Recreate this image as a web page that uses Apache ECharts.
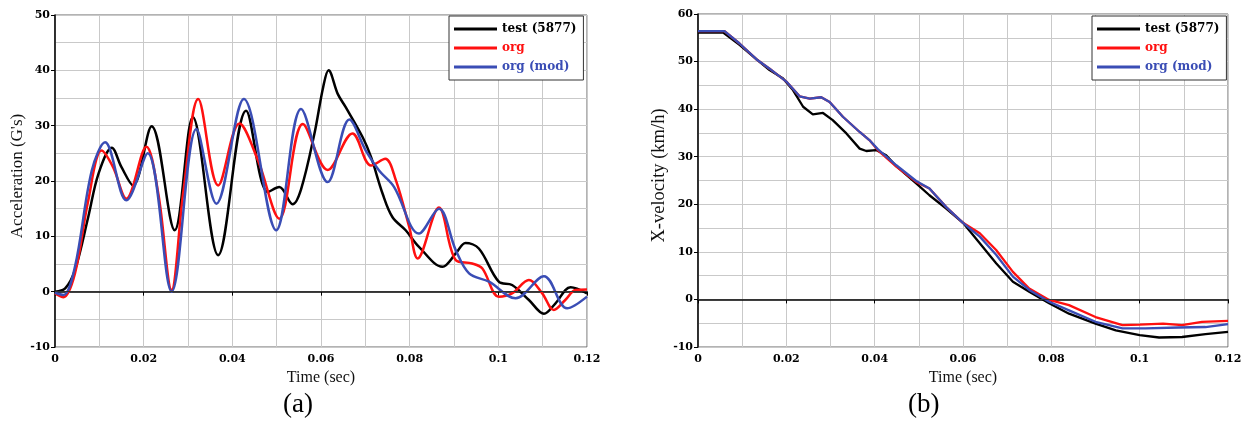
<!DOCTYPE html>
<html><head><meta charset="utf-8">
<script src="https://cdn.jsdelivr.net/npm/echarts@6/dist/echarts.min.js"></script>
<style>html,body{margin:0;padding:0;background:#fff}#c{width:1251px;height:422px}</style>
</head><body><div id="c"></div>
<script>
// ---- data (a): acceleration [time s, G's]
const accTest = [[0,0],[0.0023,0.6],[0.0045,3.9],[0.0075,13.5],[0.0098,21.3],[0.0128,26.0],[0.015,22.5],[0.0176,19.2],[0.0218,29.9],[0.027,11.1],[0.0311,31.5],[0.0368,6.6],[0.0431,32.7],[0.048,18.0],[0.0506,18.9],[0.0536,15.8],[0.0555,18.5],[0.0585,28.5],[0.0605,37],[0.0617,40.0],[0.0638,35.7],[0.0656,33.3],[0.0694,27.9],[0.0713,24.3],[0.0739,17.7],[0.0761,13.5],[0.0791,11.1],[0.0821,8.1],[0.0874,4.5],[0.0904,6.9],[0.0926,8.8],[0.0956,7.8],[0.1001,1.8],[0.1031,1.2],[0.1069,-1.5],[0.1103,-4.0],[0.1129,-2.1],[0.1163,0.8],[0.12,-0.3]];
const accOrg = [[0,-0.3],[0.0019,-1.0],[0.0045,3.3],[0.0075,16.5],[0.0105,25.5],[0.0131,22.5],[0.0161,16.8],[0.0206,26.2],[0.0233,17.7],[0.0263,0.3],[0.0289,17.7],[0.0323,34.8],[0.0368,19.2],[0.0416,30.4],[0.0458,23.7],[0.0506,13.2],[0.0559,30.3],[0.0615,22.0],[0.0671,28.6],[0.0713,22.8],[0.0745,24.0],[0.0769,20.1],[0.0799,11.7],[0.0818,6.0],[0.0866,15.2],[0.0904,5.7],[0.0941,5.1],[0.0964,4.2],[0.1001,-0.9],[0.1031,-0.3],[0.1069,2.1],[0.1099,-0.3],[0.1125,-3.3],[0.1151,-1.5],[0.1174,0.3],[0.12,0.4]];
const accMod = [[0,-0.2],[0.0019,-0.6],[0.0045,4.5],[0.0083,21.9],[0.0113,27.0],[0.0161,16.5],[0.0209,25.0],[0.0263,0],[0.0319,29.4],[0.0364,15.9],[0.0426,34.8],[0.0499,11.1],[0.0555,33.0],[0.0615,19.8],[0.0664,31.1],[0.0701,25.5],[0.0731,21.9],[0.0765,18.9],[0.0821,10.5],[0.0866,15.0],[0.0904,7.5],[0.0934,3.3],[0.0979,1.8],[0.1039,-1.2],[0.1103,2.8],[0.1155,-3.0],[0.12,-0.9]];
// ---- data (b): X-velocity [time s, km/h]
const velTest = [[0,56.1],[0.0057,56.1],[0.0094,53.5],[0.0132,50.5],[0.0162,48.2],[0.0192,46.5],[0.0215,44.0],[0.0238,40.5],[0.026,38.9],[0.0283,39.2],[0.0305,37.7],[0.0336,34.9],[0.0366,31.7],[0.0381,31.2],[0.0403,31.4],[0.0426,30.3],[0.0449,28.0],[0.0494,24.4],[0.0524,21.9],[0.0562,19.1],[0.06,16.1],[0.0638,11.8],[0.0675,7.6],[0.0713,3.7],[0.075,1.6],[0.0795,-0.8],[0.084,-3.0],[0.09,-5.1],[0.0946,-6.5],[0.1,-7.5],[0.1044,-8.0],[0.1096,-7.9],[0.1149,-7.3],[0.12,-6.8]];
const velOrg = [[0,56.4],[0.006,56.4],[0.0094,53.8],[0.0132,50.5],[0.0162,48.5],[0.02,45.8],[0.023,42.7],[0.0253,42.2],[0.0279,42.5],[0.0298,41.5],[0.0328,38.4],[0.0366,35.2],[0.0388,33.5],[0.0407,31.4],[0.0449,27.9],[0.0494,24.7],[0.0524,23.3],[0.0562,19.4],[0.06,16.1],[0.0638,13.9],[0.0675,10.4],[0.0713,5.8],[0.075,2.3],[0.0795,-0.1],[0.084,-1.2],[0.09,-3.7],[0.0961,-5.4],[0.1,-5.3],[0.1053,-5.1],[0.1096,-5.4],[0.1141,-4.7],[0.12,-4.5]];
const velMod = [[0,56.4],[0.006,56.4],[0.0094,53.8],[0.0132,50.5],[0.0162,48.5],[0.02,45.8],[0.023,42.7],[0.0253,42.2],[0.0279,42.5],[0.0298,41.5],[0.0328,38.4],[0.0366,35.2],[0.0388,33.5],[0.0407,31.6],[0.0449,28.2],[0.0494,24.9],[0.0524,23.3],[0.0562,19.4],[0.06,16.1],[0.0638,13.2],[0.0675,9.4],[0.0713,4.8],[0.075,2.0],[0.0795,-0.5],[0.084,-2.3],[0.09,-4.7],[0.0961,-6.1],[0.1013,-6.1],[0.1088,-5.9],[0.1149,-5.8],[0.12,-5.2]];
const seriesNames = ['test (5877)','org','org (mod)'];
const seriesColors = ['#000000','#ff1010','#3a4db5'];
const xTicks = [0,0.02,0.04,0.06,0.08,0.1,0.12];

const labelFont = {fontFamily:'DejaVu Serif',fontWeight:'bold',fontSize:11,color:'#000'};
const gridLine = {show:true,lineStyle:{color:'#c9c9c9',width:1}};
function xAx(gi){return {type:'value',gridIndex:gi,min:0,max:0.12,interval:0.02,
  name:'Time (sec)',nameLocation:'middle',nameGap:21,
  nameTextStyle:{fontFamily:'Liberation Serif',fontSize:16,color:'#111'},
  axisLine:{lineStyle:{color:'#000',width:1.5}},axisTick:{show:true,length:4,lineStyle:{color:'#000'}},
  axisLabel:Object.assign({margin:7,formatter:v=>String(+v.toFixed(2))},labelFont),
  splitLine:gridLine,minorTick:{show:false,splitNumber:2},minorSplitLine:gridLine};}
function yAx(gi,min,max,name,fs){return {type:'value',gridIndex:gi,min:min,max:max,interval:10,
  name:name,nameLocation:'middle',nameGap:29,
  nameTextStyle:{fontFamily:'Liberation Serif',fontSize:fs,color:'#111',padding:[0,0,0,10]},
  axisLine:{show:true,lineStyle:{color:'#000',width:1.5}},axisTick:{show:true,length:4,lineStyle:{color:'#000'}},
  axisLabel:Object.assign({margin:5},labelFont),
  splitLine:gridLine,minorTick:{show:false,splitNumber:2},minorSplitLine:gridLine};}
function mk(name,data,gi,color,smooth,w,zero){
  const s={name:name,type:'line',xAxisIndex:gi,yAxisIndex:gi,data:data,showSymbol:false,
    smooth:smooth,lineStyle:{color:color,width:w},itemStyle:{color:color},animation:false};
  if(zero){s.markLine={silent:true,symbol:'none',animation:false,label:{show:false},
    lineStyle:{color:'#333',width:1,type:'solid'},data:[{yAxis:0}]};}
  return s;}
function legendCfg(left){return {orient:'vertical',left:left,top:16,padding:[7,7,7,5],itemGap:7,
  itemWidth:43,itemHeight:3,icon:'rect',borderColor:'#333',borderWidth:1,backgroundColor:'#fff',
  textStyle:{fontFamily:'DejaVu Serif',fontWeight:'bold',fontSize:12},selectedMode:false,
  data:seriesNames.map((n,i)=>({name:n,textStyle:{color:seriesColors[i]}}))};}

const accSets=[accTest,accOrg,accMod], velSets=[velTest,velOrg,velMod];
const series=[];
accSets.forEach((d,i)=>series.push(mk(seriesNames[i],d,0,seriesColors[i],0.35,2.5,i===0)));
velSets.forEach((d,i)=>series.push(mk(seriesNames[i],d,1,seriesColors[i],false,2.3,i===0)));

const chart=echarts.init(document.getElementById('c'));
chart.setOption({
  animation:false,backgroundColor:'#fff',
  grid:[{left:55,top:15,width:532,height:332,show:true,borderColor:'#666',borderWidth:1},
        {left:698,top:14,width:530,height:333,show:true,borderColor:'#666',borderWidth:1}],
  xAxis:[xAx(0),xAx(1)],
  yAxis:[yAx(0,-10,50,"Acceleration (G's)",17),yAx(1,-10,60,'X-velocity (km/h)',18.5)],
  legend:[legendCfg(449),legendCfg(1092)],
  series:series,
  graphic:[
    {type:'text',left:283,top:391,style:{text:'(a)',font:'27px "Liberation Serif"',fill:'#000'}},
    {type:'text',left:908,top:391,style:{text:'(b)',font:'27px "Liberation Serif"',fill:'#000'}}
  ]
});
</script></body></html>
